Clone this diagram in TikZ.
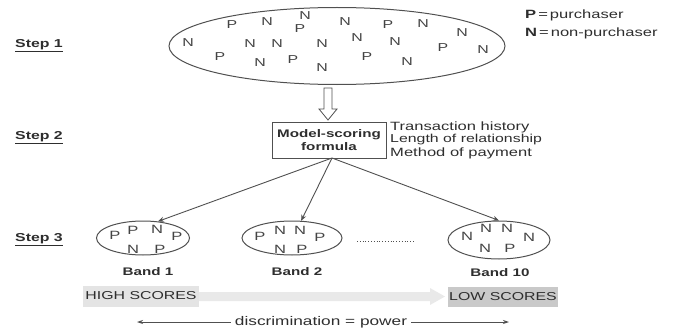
\documentclass[tikz,border=0pt]{standalone}
\usepackage{fontspec}
\usetikzlibrary{shapes.geometric,arrows.meta}
\newfontfamily\arialx[FakeStretch=1.38]{Liberation Sans}
\definecolor{txtc}{HTML}{2E2E2E}
\definecolor{letc}{HTML}{444444}
\definecolor{linec}{HTML}{505050}
\definecolor{hibox}{HTML}{E4E4E4}
\definecolor{lobox}{HTML}{C9C9C9}
\definecolor{flow}{HTML}{E9E9E9}
\tikzset{
  lett/.style={font=\arialx\fontsize{11.5}{12}\selectfont, text=letc, inner sep=0pt},
  blett/.style={font=\arialx\fontsize{12}{12}\selectfont, text=letc, inner sep=0pt},
  steplbl/.style={font=\arialx\bfseries\fontsize{11.5}{12}\selectfont, text=txtc, inner sep=0pt, anchor=west},
  bandlbl/.style={font=\arialx\bfseries\fontsize{11}{12}\selectfont, text=txtc, inner sep=0pt},
  reg/.style={font=\arialx\fontsize{11.5}{12.5}\selectfont, text=txtc, inner sep=0pt, anchor=west},
  legend/.style={font=\arialx\fontsize{12}{12}\selectfont, text=txtc, inner sep=0pt, anchor=west},
  popell/.style={ellipse, draw=linec, line width=1pt, inner sep=0pt},
  fline/.style={draw=linec, line width=0.9pt, -{Stealth[length=6pt,width=5pt]}},
}
\begin{document}
\begin{tikzpicture}[x=1pt,y=-1pt]
\useasboundingbox (0,0) rectangle (679,329);
% step labels
\node[steplbl] (s1) at (15,46) {\underline{Step 1}};
\node[steplbl] (s2) at (15,138) {\underline{Step 2}};
\node[steplbl] (s3) at (15,240) {\underline{Step 3}};
% big population ellipse
\node[popell, minimum width=336pt, minimum height=77pt] (pop) at (337,46) {};
\foreach \l/\x/\y in {P/232/25, N/267/22, N/305/16, P/300/29, N/345/22, P/388/25, N/423/24, N/462/33,
  N/188/43, N/250/44, N/277/44, N/322/44, N/357/38, N/395/42, P/443/48, N/483/50,
  P/220/57, N/260/63, P/293/60, N/322/68, P/367/57, N/407/62}
  \node[lett] at (\x,\y) {\l};
% legend
\node[legend] (lgP) at (525,15) {\textbf{P}\,=\,purchaser};
\node[legend] (lgN) at (525,33) {\textbf{N}\,=\,non-purchaser};
% hollow arrow
\draw[draw=linec, fill=white, line width=0.8pt]
  (324,88) -- (332,88) -- (332,109) -- (337,109) -- (328,120) -- (319,109) -- (324,109) -- cycle;
% model box
\node[draw=linec, line width=1pt, minimum width=114pt, minimum height=36pt, align=center,
  font=\arialx\bfseries\fontsize{11}{13}\selectfont, text=txtc] (box) at (329,140) {Model-scoring\\formula};
\node[reg, font=\arialx\fontsize{12}{12.5}\selectfont] (t1) at (390,127) {Transaction history};
\node[reg] (t2) at (390,140) {Length of relationship};
\node[reg, font=\arialx\fontsize{12}{12.5}\selectfont] (t3) at (390,153) {Method of payment};
\coordinate (src) at (332,158);
% bands
\node[popell, minimum width=93pt, minimum height=34pt] (b1) at (143,238) {};
\node[popell, minimum width=100pt, minimum height=34pt] (b2) at (292,238) {};
\node[popell, minimum width=102pt, minimum height=38pt] (b10) at (499,240) {};
\foreach \l/\x/\y in {P/115/235, P/133/230, N/157/229, P/177/236, N/133/249, P/160/249,
  P/260/236, N/280/230, N/300/230, P/320/237, N/280/249, P/302/249,
  N/467/236, N/486/228, N/507/228, N/529/237, N/485/248, P/510/248}
  \node[blett] at (\x,\y) {\l};
\draw[fline] (src) -- (b1.48);
\draw[fline] (src) -- (b2.62);
\draw[fline] (src) -- (b10.north);
\coordinate (d1) at (357,241);
\coordinate (d2) at (415,241);
\draw[linec, dotted, line width=0.8pt] (d1) -- (d2);
\node[bandlbl] (l1) at (148,272) {Band 1};
\node[bandlbl] (l2) at (297,272) {Band 2};
\node[bandlbl] (l10) at (500,273) {Band 10};
% scores
\node[fill=hibox, minimum width=116pt, minimum height=21pt, inner sep=0pt] (hi) at (141,296) {};
\node[reg, anchor=center] at (hi.center) {HIGH SCORES};
\node[fill=lobox, minimum width=110pt, minimum height=20pt, inner sep=0pt] (lo) at (503,297) {};
\node[reg, anchor=center] at (lo.center) {LOW SCORES};
\fill[flow] (199,292) -- (430,292) -- (430,288) -- (445,296.5) -- (430,305) -- (430,301) -- (199,301) -- cycle;
% discrimination
\node[reg, anchor=center, font=\arialx\fontsize{12.5}{12}\selectfont] (disc) at (321,322) {discrimination = power};
\coordinate (dl) at (137,322);
\coordinate (dr) at (509,322);
\draw[linec, line width=0.9pt, -{Stealth[length=6pt,width=4pt]}] (disc.west) ++(-4,0) -- (dl);
\draw[linec, line width=0.9pt, -{Stealth[length=6pt,width=4pt]}] (disc.east) ++(4,0) -- (dr);
\end{tikzpicture}
\end{document}
